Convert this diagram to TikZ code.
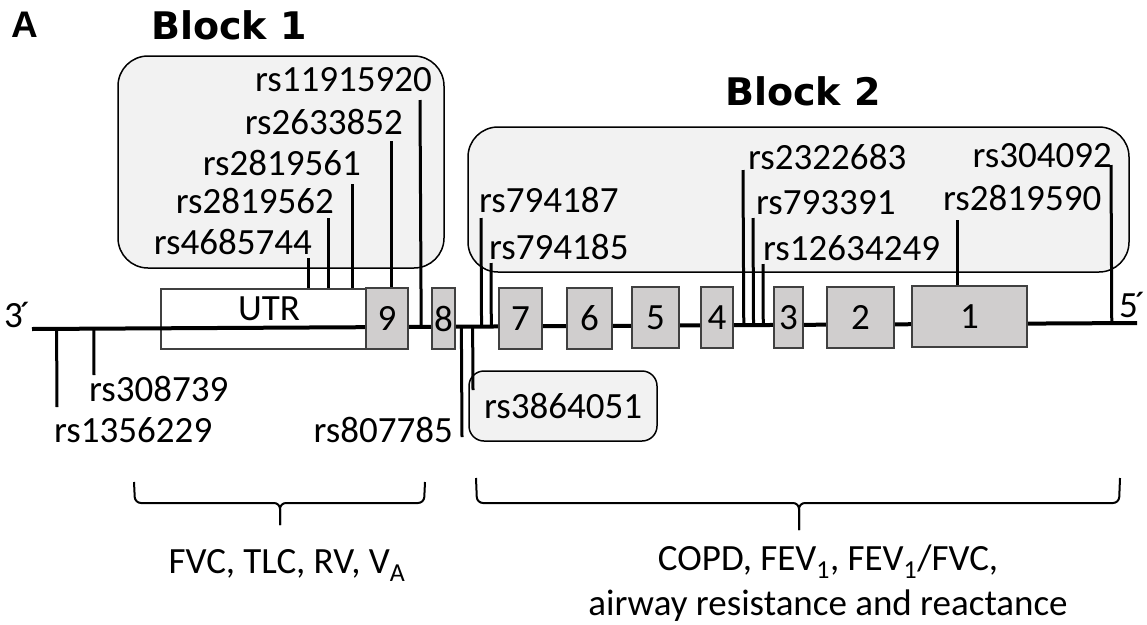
\documentclass[tikz,border=0pt]{standalone}
\usepackage{fontspec}
\setmainfont{Carlito}
\newfontfamily\heavyfont{DejaVu Sans}
\newfontfamily\panelfont{Liberation Sans}
\usepackage{tikz}
\usetikzlibrary{positioning, calc}
\definecolor{exonfill}{HTML}{D0CECE}
\definecolor{blockfill}{HTML}{F2F2F2}
\definecolor{exonline}{HTML}{404040}

\begin{document}
\begin{tikzpicture}[
    x=1pt, y=-1pt,
    txt/.style={inner sep=0pt, font=\fontsize{37}{45}\selectfont},
    blockbox/.style={draw, line width=1.5pt, fill=blockfill, rounded corners=30pt},
    snpbox/.style={draw, line width=1.5pt, fill=blockfill, rounded corners=15pt, inner sep=0pt, font=\fontsize{37}{45}\selectfont},
    exon/.style={draw=exonline, fill=exonfill, line width=2pt, minimum height=61pt, inner sep=0pt, font=\fontsize{37}{45}\selectfont},
    utrbox/.style={draw=exonline, fill=white, line width=2pt, minimum height=60pt, minimum width=231pt},
    gene/.style={line width=4pt},
    snp/.style={line width=3pt},
    brace/.style={line width=2pt, rounded corners=6pt},
    blocktitle/.style={inner sep=0pt, font=\heavyfont\bfseries\fontsize{38}{44}\selectfont}
]
\useasboundingbox (0,0) rectangle (1147,624);

\node[inner sep=0pt, font=\panelfont\bfseries\fontsize{37}{40}\selectfont] (panel) at (25,25) {A};
\node[blocktitle] (blk1title) at (229,25) {Block 1};
\node[blocktitle] (blk2title) at (803,91) {Block 2};

\node[blockbox, minimum width=326pt, minimum height=212pt] (blk1) at (281,162) {};
\node[blockbox, minimum width=661pt, minimum height=145pt] (blk2) at (798.5,199.5) {};
\node[snpbox, minimum width=188pt, minimum height=70pt] (rs3864051) at (563,406) {rs3864051};

\node[utrbox] (utr) at (276.5,319) {};
\node[txt] (utrtext) at (269,309) {UTR};

\coordinate (g3) at (32,329);
\coordinate (g5) at (1137,323);
\draw[gene] (g3) -- (g5);
\node[txt, anchor=west] (end3) at (4,315) {3\kern-3pt´};
\node[txt, anchor=west] (end5) at (1119,305) {5\kern-3pt´};

\node[exon, minimum width=42pt] (e9) at (387,318.7) {9};
\node[exon, minimum width=23pt] (e8) at (443.5,318.5) {8};
\node[exon, minimum width=43pt] (e7) at (520.5,318.3) {7};
\node[exon, minimum width=45pt] (e6) at (589.5,318.1) {6};
\node[exon, minimum width=47pt] (e5) at (655.5,317.9) {5};
\node[exon, minimum width=32pt] (e4) at (717,317.7) {4};
\node[exon, minimum width=29pt] (e3) at (788.5,317.5) {3};
\node[exon, minimum width=67pt] (e2) at (860.5,317.2) {2};
\node[exon, minimum width=115pt] (e1) at (969.5,316.9) {1};

\node[txt, anchor=east] (rs11915920) at (432,80) {rs11915920};
\node[txt, anchor=east] (rs2633852) at (403,122) {rs2633852};
\node[txt, anchor=east] (rs2819561) at (361,163) {rs2819561};
\node[txt, anchor=east] (rs2819562) at (334,201) {rs2819562};
\node[txt, anchor=east] (rs4685744) at (312,242) {rs4685744};
\node[txt, anchor=west] (rs794187) at (479,200) {rs794187};
\node[txt, anchor=west] (rs794185) at (489,247) {rs794185};
\node[txt, anchor=west] (rs2322683) at (748,157) {rs2322683};
\node[txt, anchor=west] (rs793391) at (756,203) {rs793391};
\node[txt, anchor=west] (rs12634249) at (763,248) {rs12634249};
\node[txt, anchor=west] (rs2819590) at (943,198) {rs2819590};
\node[txt, anchor=east] (rs304092) at (1112,156) {rs304092};
\node[txt, anchor=west] (rs308739) at (89,389) {rs308739};
\node[txt, anchor=west] (rs1356229) at (54,430) {rs1356229};
\node[txt, anchor=east] (rs807785) at (453,430) {rs807785};

\coordinate (t11915920) at (420,100);
\coordinate (t2633852) at (391,141);
\coordinate (t2819561) at (352,184);
\coordinate (t2819562) at (328,218);
\coordinate (t4685744) at (308,258);
\coordinate (t794187) at (481,218);
\coordinate (t794185) at (491,263);
\coordinate (t2322683) at (743,170);
\coordinate (t793391) at (753,218);
\coordinate (t12634249) at (763,264);
\coordinate (t2819590) at (957,220);
\coordinate (t304092) at (1111,165);
\coordinate (b1356229) at (57,407);
\coordinate (b308739) at (94,375);
\coordinate (b807785) at (462,437);
\coordinate (b3864051) at (473,390);

\draw[snp] (t11915920) -- ($(g3)!(t11915920)!(g5)$);
\draw[snp] (t2633852) -- (t2633852 |- e9.north);
\draw[snp] (t2819561) -- (t2819561 |- utr.north);
\draw[snp] (t2819562) -- (t2819562 |- utr.north);
\draw[snp] (t4685744) -- (t4685744 |- utr.north);
\draw[snp] (t794187) -- ($(g3)!(t794187)!(g5)$);
\draw[snp] (t794185) -- ($(g3)!(t794185)!(g5)$);
\draw[snp] (t2322683) -- ($(g3)!(t2322683)!(g5)$);
\draw[snp] (t793391) -- ($(g3)!(t793391)!(g5)$);
\draw[snp] (t12634249) -- ($(g3)!(t12634249)!(g5)$);
\draw[snp] (t2819590) -- (t2819590 |- e1.north);
\draw[snp] (t304092) -- ($(g3)!(t304092)!(g5)$);
\draw[snp] ($(g3)!(b1356229)!(g5)$) -- (b1356229);
\draw[snp] ($(g3)!(b308739)!(g5)$) -- (b308739);
\draw[snp] ($(g3)!(b807785)!(g5)$) -- (b807785);
\draw[snp] ($(g3)!(b3864051)!(g5)$) -- (b3864051);

\coordinate (tip1) at (280,525);
\coordinate (tip2) at (799,530);
\draw[brace] (134,482) -- (135,503) -- (280,503) -- (tip1);
\draw[brace] (425,482) -- (424,503) -- (280,503) -- (tip1);
\draw[brace] (476,478) -- (477,503) -- (799,503) -- (tip2);
\draw[brace] (1120,478) -- (1119,503) -- (799,503) -- (tip2);

\node[txt, anchor=base] (trait1) at (287,573) {FVC, TLC, RV, V\textsubscript{A}};
\node[txt, align=center, anchor=north] (trait2) at (828,545) {COPD, FEV\textsubscript{1}, FEV\textsubscript{1}/FVC,\\airway resistance and reactance};

\end{tikzpicture}
\end{document}
